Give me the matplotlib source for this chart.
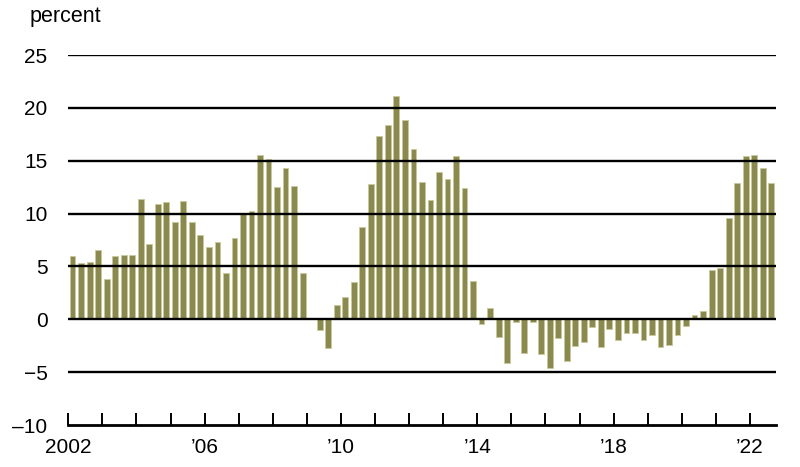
import numpy as np
import matplotlib
matplotlib.use('Agg')
import matplotlib.pyplot as plt

plt.rcParams['font.family'] = ['Liberation Sans', 'DejaVu Sans']

# quarterly values, 2002:Q1 - 2022:Q3 (percent)
start_year = 2002
values = [
    6.0, 5.35, 5.45, 6.6, 3.8, 6.0, 6.1, 6.05,        # 2002-03
    11.4, 7.15, 10.9, 11.1, 9.25, 11.15, 9.25, 8.0,   # 2004-05
    6.85, 7.3, 4.35, 7.65, 10.0, 10.2, 15.55, 15.15,  # 2006-07
    12.55, 14.35, 12.6, 4.35, 0.15, -1.0, -2.75, 1.35,  # 2008-09
    2.15, 3.5, 8.75, 12.8, 17.3, 18.4, 21.15, 18.85,  # 2010-11
    16.1, 13.0, 11.25, 13.95, 13.3, 15.45, 12.4, 3.65,  # 2012-13
    -0.4, 1.1, -1.7, -4.15, -0.3, -3.2, -0.25, -3.25,  # 2014-15
    -4.65, -1.8, -3.95, -2.5, -2.1, -0.7, -2.65, -0.9,  # 2016-17
    -2.0, -1.3, -1.3, -2.0, -1.5, -2.6, -2.45, -1.45,  # 2018-19
    -0.6, 0.45, 0.8, 4.7, 4.9, 9.55, 12.85, 15.4,     # 2020-21
    15.55, 14.35, 12.9,                               # 2022
]
yticks = [-10, -5, 0, 5, 10, 15, 20, 25]
ylabels = ['\u201310', '\u22125', '0', '5', '10', '15', '20', '25']
xlabel_years = [2002, 2006, 2010, 2014, 2018, 2022]
xlabels = ['2002', '\u201906', '\u201910', '\u201914', '\u201918', '\u201922']

bar_col = '#8a8a50'
edge_col = '#c9c99b'

fig = plt.figure(figsize=(8, 4.67), dpi=100)
ax = fig.add_axes([0.0854, 0.0899, 0.884, 0.7923])

x = start_year + np.arange(len(values)) / 4 + 0.125
ax.bar(x, values, width=0.17, color=bar_col, edgecolor=edge_col,
       linewidth=0.6, zorder=2)

ax.set_xlim(start_year, 2022.75)
ax.set_ylim(-10, 25)

# horizontal rules drawn on top of the bars
for yv in yticks[1:]:
    ax.axhline(yv, color='black', lw=1.7, zorder=3)

for s in ['top', 'right', 'left']:
    ax.spines[s].set_visible(False)
ax.spines['bottom'].set_linewidth(2)
ax.spines['bottom'].set_zorder(4)

ax.set_yticks(yticks)
ax.set_yticklabels(ylabels)
ax.tick_params(axis='y', length=0, pad=15, labelsize=15)

ax.set_xticks(np.arange(2002, 2023), minor=True)
ax.set_xticks(xlabel_years)
ax.set_xticklabels(xlabels)
ax.tick_params(axis='x', which='both', direction='in', length=8.6,
               width=1.4, pad=9, labelsize=15)

fig.text(30 / 800, 1 - 22 / 467, 'percent', fontsize=15.5, ha='left',
         va='baseline')

plt.savefig('out.png', dpi=100)
